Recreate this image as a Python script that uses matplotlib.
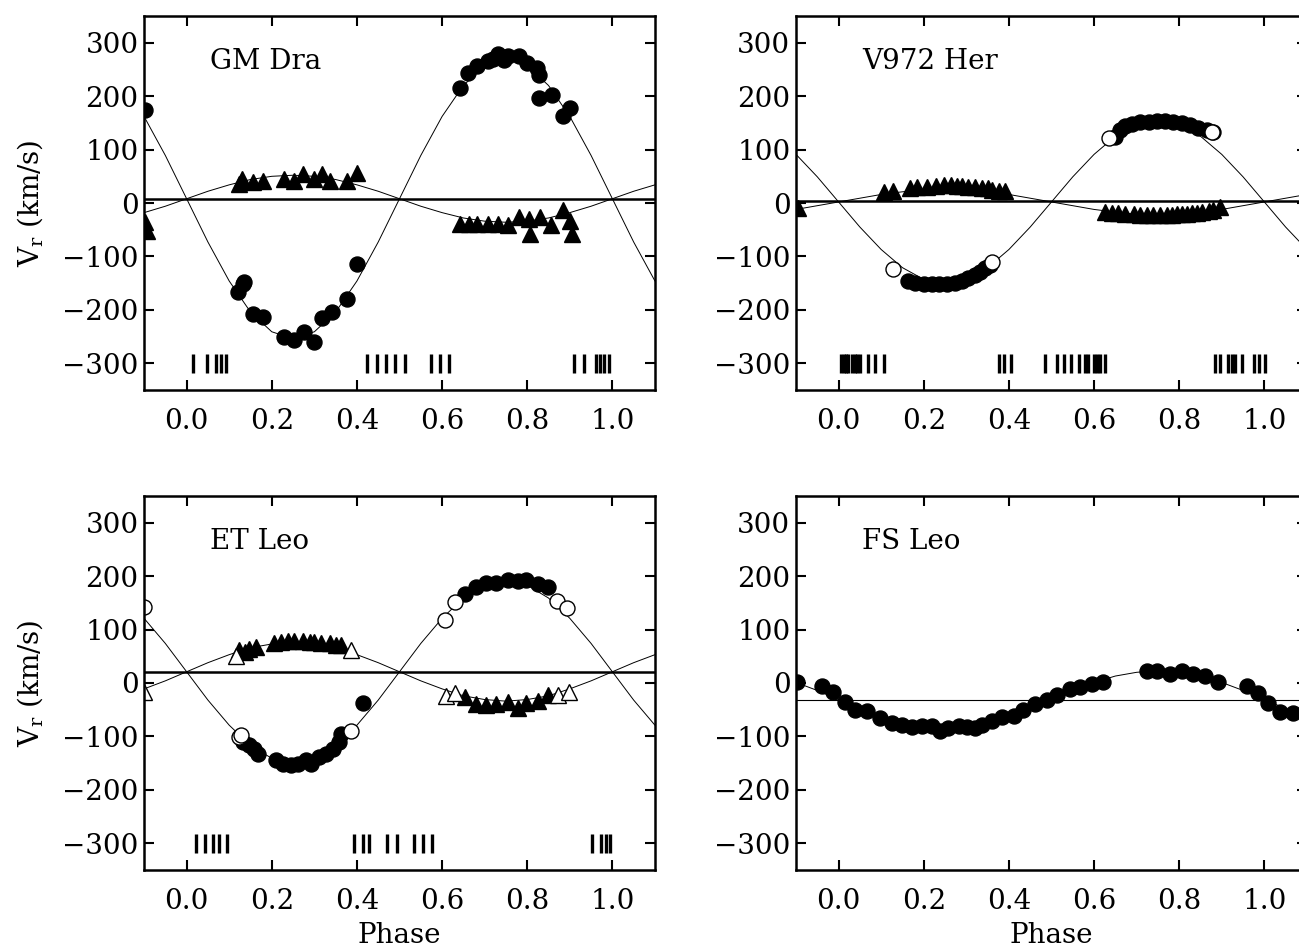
import matplotlib
matplotlib.use("Agg")
import matplotlib.pyplot as plt
import numpy as np

plt.rcParams['font.family'] = ['DejaVu Serif']
plt.rcParams['mathtext.fontset'] = 'dejavuserif'
plt.rcParams['font.size'] = 20

# model curves, every 0.05 in phase
phase_grid = [-0.10, -0.05, 0.00, 0.05, 0.10, 0.15, 0.20, 0.25, 0.30, 0.35, 0.40,
              0.45, 0.50, 0.55, 0.60, 0.65, 0.70, 0.75, 0.80, 0.85, 0.90, 0.95,
              1.00, 1.05, 1.10]

# ---- GM Dra
gm_gamma = 8
gm_fit1 = [162, 89, 8, -73, -146, -204, -241, -254, -241, -204, -146, -73, 8,
           89, 162, 220, 257, 270, 257, 220, 162, 89, 8, -73, -146]
gm_fit2 = [-18, -6, 8, 22, 34, 44, 50, 52, 50, 44, 34, 22, 8, -6, -18, -28,
           -34, -36, -34, -28, -18, -6, 8, 22, 34]
gm_p1 = [-0.097, 0.120, 0.132, 0.135, 0.155, 0.180, 0.229, 0.253, 0.275, 0.298,
         0.318, 0.342, 0.377, 0.400, 0.643, 0.661, 0.683, 0.707, 0.720, 0.732,
         0.745, 0.756, 0.781, 0.800, 0.823, 0.828, 0.828, 0.858, 0.883, 0.901]
gm_v1 = [175, -167, -151, -147, -207, -213, -251, -257, -241, -260, -216, -204,
         -180, -114, 216, 244, 256, 266, 270, 278, 268, 275, 275, 262, 253, 240,
         197, 203, 163, 178]
gm_p2 = [-0.097, -0.092, 0.123, 0.130, 0.155, 0.180, 0.229, 0.253, 0.273, 0.298,
         0.318, 0.337, 0.377, 0.400, 0.643, 0.663, 0.683, 0.707, 0.732, 0.756,
         0.781, 0.804, 0.806, 0.830, 0.855, 0.883, 0.900, 0.906]
gm_v2 = [-36, -52, 35, 45, 39, 42, 45, 42, 54, 45, 54, 42, 42, 57, -39, -39, -39,
         -39, -40, -42, -27, -30, -58, -27, -42, -14, -33, -58]
gm_obs = [0.015, 0.048, 0.068, 0.080, 0.092, 0.423, 0.446, 0.468, 0.490, 0.512,
          0.574, 0.594, 0.616, 0.909, 0.934, 0.962, 0.972, 0.980, 0.993]

# ---- V972 Her
vh_gamma = 3
vh_fit1 = [91, 49, 2, -45, -87, -121, -143, -150, -143, -121, -87, -45, 2, 49,
           91, 125, 147, 154, 147, 125, 91, 49, 2, -45, -87]
vh_fit2 = [-12, -5, 2, 9, 16, 21, 25, 26, 25, 21, 16, 9, 2, -5, -12, -17, -21,
           -22, -21, -17, -12, -5, 2, 9, 16]
vh_p1 = [0.164, 0.180, 0.200, 0.219, 0.235, 0.254, 0.274, 0.290, 0.305, 0.321,
         0.333, 0.344, 0.356, 0.650, 0.661, 0.673, 0.689, 0.708, 0.728, 0.747,
         0.767, 0.786, 0.806, 0.826, 0.845, 0.865, 0.879]
vh_v1 = [-146, -149, -151, -152, -152, -151, -149, -146, -141, -135, -129, -122,
         -116, 124, 137, 144, 148, 151, 152, 153, 153, 152, 150, 146, 141, 136, 132]
vh_p1_open = [0.128, 0.360, 0.636, 0.877]
vh_v1_open = [-124, -110, 121, 132]
vh_p2 = [-0.095, 0.106, 0.128, 0.167, 0.185, 0.208, 0.228, 0.247, 0.263, 0.278,
         0.290, 0.305, 0.321, 0.337, 0.351, 0.360, 0.376, 0.390, 0.626, 0.642,
         0.657, 0.673, 0.693, 0.708, 0.724, 0.739, 0.755, 0.771, 0.783, 0.794,
         0.806, 0.818, 0.830, 0.841, 0.853, 0.869, 0.880, 0.896]
vh_v2 = [-9, 20, 23, 28, 30, 30, 31, 33, 33, 32, 31, 30, 30, 29, 28, 25, 22, 22,
         -16, -18, -19, -20, -21, -22, -22, -23, -23, -22, -22, -21, -21, -20,
         -19, -18, -17, -15, -13, -8]
vh_obs = [0.006, 0.012, 0.017, 0.023, 0.031, 0.038, 0.043, 0.051, 0.069, 0.086,
          0.106, 0.376, 0.388, 0.406, 0.484, 0.513, 0.529, 0.547, 0.564, 0.578,
          0.586, 0.599, 0.607, 0.615, 0.625, 0.885, 0.897, 0.915, 0.924, 0.932,
          0.948, 0.975, 0.987, 1.001]

# ---- ET Leo
et_gamma = 21
et_fit1 = [121, 74, 21, -32, -79, -117, -141, -149, -141, -117, -79, -32, 21,
           74, 121, 159, 183, 191, 183, 159, 121, 74, 21, -32, -79]
et_fit2 = [-11, 4, 21, 38, 53, 66, 73, 76, 73, 66, 53, 38, 21, 4, -11, -24, -31,
           -34, -31, -24, -11, 4, 21, 38, 53]
et_p1 = [0.132, 0.147, 0.159, 0.167, 0.210, 0.226, 0.245, 0.261, 0.281, 0.292,
         0.312, 0.328, 0.343, 0.359, 0.363, 0.415, 0.653, 0.680, 0.704, 0.727,
         0.755, 0.778, 0.798, 0.825, 0.849]
et_v1 = [-111, -117, -123, -132, -145, -152, -154, -152, -145, -151, -139, -132,
         -123, -111, -95, -38, 167, 179, 187, 188, 192, 190, 192, 185, 179]
et_p1_open = [-0.0995, 0.122, 0.128, 0.387, 0.608, 0.631, 0.870, 0.894]
et_v1_open = [142, -101, -98, -90, 118, 151, 153, 141]
et_p2 = [0.124, 0.136, 0.147, 0.163, 0.206, 0.222, 0.237, 0.253, 0.273, 0.289,
         0.300, 0.316, 0.336, 0.351, 0.363, 0.653, 0.680, 0.704, 0.727, 0.755,
         0.778, 0.798, 0.825, 0.849]
et_v2 = [61, 58, 64, 68, 75, 77, 78, 78, 78, 77, 76, 75, 74, 72, 71, -26, -40,
         -42, -39, -36, -47, -38, -33, -23]
et_p2_open = [-0.099, 0.116, 0.386, 0.610, 0.631, 0.872, 0.897]
et_v2_open = [-17, 51, 62, -25, -19, -23, -17]
et_obs = [0.022, 0.044, 0.063, 0.075, 0.094, 0.394, 0.414, 0.429, 0.470, 0.494,
          0.535, 0.555, 0.577, 0.953, 0.974, 0.984, 0.995]

# ---- FS Leo
fs_gamma = -31
fs_fit1 = [1, -14, -31, -48, -63, -75, -82, -85, -82, -75, -63, -48, -31, -14,
           1, 13, 20, 23, 20, 13, 1, -14, -31, -48, -63]
fs_p1 = [-0.098, -0.039, -0.012, 0.014, 0.039, 0.067, 0.098, 0.125, 0.149,
         0.172, 0.196, 0.219, 0.239, 0.258, 0.282, 0.301, 0.321, 0.336, 0.360,
         0.383, 0.411, 0.434, 0.462, 0.489, 0.513, 0.544, 0.567, 0.595, 0.622,
         0.724, 0.747, 0.779, 0.806, 0.833, 0.861, 0.890, 0.959, 0.986, 1.009,
         1.037, 1.068]
fs_v1 = [2, -6, -17, -35, -51, -52, -66, -74, -78, -83, -80, -80, -89, -85, -80,
         -83, -85, -78, -72, -64, -62, -51, -40, -31, -23, -12, -7, -1, 2, 22, 22,
         17, 22, 17, 14, 2, -6, -19, -37, -54, -57]

x_ticks = [0.0, 0.2, 0.4, 0.6, 0.8, 1.0]
y_ticks = [-300, -200, -100, 0, 100, 200, 300]

fig = plt.figure(figsize=(12.99, 9.48), dpi=100)
ax1 = fig.add_axes([0.1109, 0.5886, 0.3933, 0.3945])
ax2 = fig.add_axes([0.6128, 0.5886, 0.3933, 0.3945])
ax3 = fig.add_axes([0.1109, 0.0823, 0.3933, 0.3945])
ax4 = fig.add_axes([0.6128, 0.0823, 0.3933, 0.3945])

circ = dict(ls='none', marker='o', ms=10.8, mfc='black', mec='black', mew=1)
circ_open = dict(ls='none', marker='o', ms=10.8, mfc='white', mec='black', mew=1)
tri = dict(ls='none', marker='^', ms=11, mfc='black', mec='black', mew=1)
tri_open = dict(ls='none', marker='^', ms=11, mfc='white', mec='black', mew=1)


def setup(ax, name):
    ax.set_xlim(-0.1, 1.1)
    ax.set_ylim(-350, 350)
    ax.set_xticks(x_ticks)
    ax.set_xticklabels(['%.1f' % t for t in x_ticks])
    ax.set_yticks(y_ticks)
    ax.tick_params(direction='in', top=True, right=True, length=7.5, width=1.5)
    ax.tick_params(axis='x', pad=13)
    ax.tick_params(axis='y', pad=4)
    for s in ax.spines.values():
        s.set_linewidth(1.8)
    ax.text(0.055, 265, name, ha='left', va='center')


def curves(ax, gamma, fits, thick=True):
    ax.axhline(gamma, color='black', lw=1.8 if thick else 0.8)
    for f in fits:
        ax.plot(phase_grid, f, color='black', lw=0.7)


def obs_bars(ax, obs):
    ax.vlines(obs, -318, -282, color='black', lw=2.4)


# GM Dra
setup(ax1, 'GM Dra')
curves(ax1, gm_gamma, [gm_fit1, gm_fit2])
ax1.plot(gm_p2, gm_v2, **tri)
ax1.plot(gm_p1, gm_v1, **circ)
obs_bars(ax1, gm_obs)

# V972 Her
setup(ax2, 'V972 Her')
curves(ax2, vh_gamma, [vh_fit1, vh_fit2])
ax2.plot(vh_p2, vh_v2, **tri)
ax2.plot(vh_p1, vh_v1, **circ)
ax2.plot(vh_p1_open, vh_v1_open, **circ_open)
obs_bars(ax2, vh_obs)

# ET Leo
setup(ax3, 'ET Leo')
curves(ax3, et_gamma, [et_fit1, et_fit2])
ax3.plot(et_p2, et_v2, **tri)
ax3.plot(et_p2_open, et_v2_open, **tri_open)
ax3.plot(et_p1, et_v1, **circ)
ax3.plot(et_p1_open, et_v1_open, **circ_open)
obs_bars(ax3, et_obs)

# FS Leo
setup(ax4, 'FS Leo')
curves(ax4, fs_gamma, [fs_fit1], thick=False)
ax4.plot(fs_p1, fs_v1, **circ)

for ax in (ax1, ax3):
    ax.set_ylabel(r'V$_{\rm r}$ (km/s)', va='center')
    ax.yaxis.set_label_coords(-0.223, 0.5)
for ax in (ax3, ax4):
    ax.set_xlabel('Phase', va='top')
    ax.xaxis.set_label_coords(0.5, -0.14)

fig.savefig('out.png', dpi=100)
